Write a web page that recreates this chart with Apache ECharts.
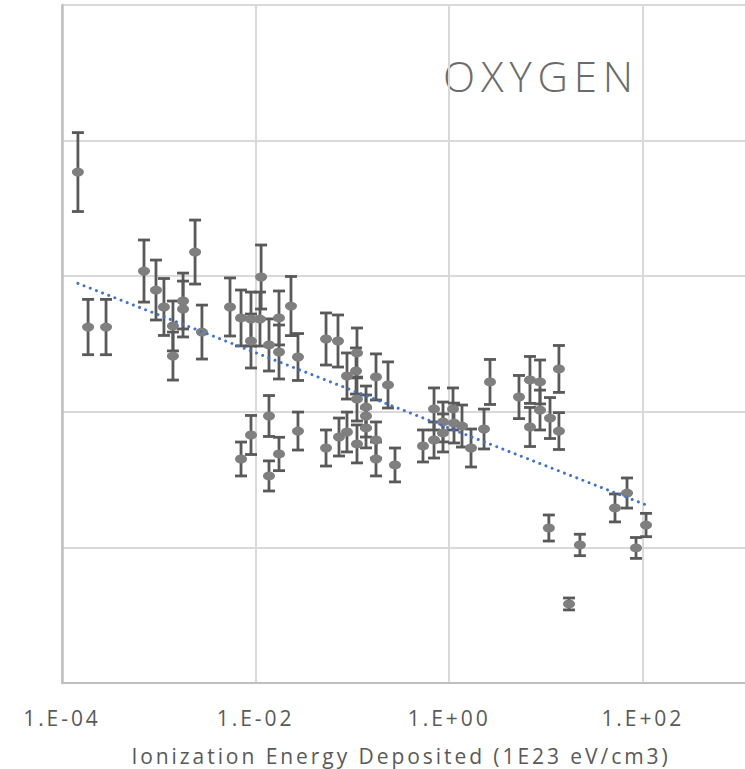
<!DOCTYPE html>
<html>
<head>
<meta charset="utf-8">
<title>OXYGEN</title>
<script src="https://cdn.jsdelivr.net/npm/echarts@6/dist/echarts.min.js"></script>
<style>
  html, body { margin: 0; padding: 0; background: #ffffff; }
  #chart { width: 745px; height: 769px; }
  /* loose tracking for all chart text */
  #chart text { letter-spacing: 0.14em; }
</style>
</head>
<body>
<div id="chart"></div>
<script>
// Ionization energy deposited (1E23 eV/cm3) for each measurement
const energyDeposited = [
  1.46e-4, 1.86e-4, 2.85e-4, 7.03e-4, 9.35e-4, 1.13e-3, 1.40e-3, 1.40e-3, 1.78e-3, 1.78e-3,
  2.37e-3, 2.79e-3, 5.44e-3, 7.07e-3, 8.96e-3, 1.11e-2, 1.14e-2, 8.96e-3, 1.375e-2, 1.745e-2,
  1.745e-2, 2.32e-2, 2.74e-2, 7.07e-3, 8.96e-3, 1.375e-2, 1.375e-2, 1.745e-2, 2.74e-2, 5.34e-2,
  7.10e-2, 0.1115, 8.79e-2, 0.109, 0.1753, 0.2332, 0.1115, 0.1382, 0.1382, 8.79e-2,
  7.27e-2, 5.34e-2, 0.1115, 0.1382, 0.1753, 0.1753, 0.2755, 0.536, 0.697, 0.697,
  0.863, 0.863, 1.095, 1.121, 1.356, 1.68, 2.29, 2.64, 5.26, 6.83,
  8.67, 13.6, 6.83, 8.67, 11.0, 13.6, 10.7, 22.4, 17.3, 51.6,
  68.7, 108, 85.1
];

// Measured response at each point
const response = [
  3.768, 2.625, 2.625, 3.038, 2.898, 2.773, 2.633, 2.411, 2.817, 2.758,
  3.178, 2.588, 2.773, 2.692, 2.684, 2.684, 2.994, 2.522, 2.493, 2.692,
  2.441, 2.780, 2.404, 1.652, 1.829, 1.969, 1.527, 1.689, 1.858, 2.537,
  2.522, 2.434, 2.264, 2.301, 2.257, 2.198, 2.094, 2.035, 1.969, 1.851,
  1.814, 1.733, 1.763, 1.881, 1.792, 1.652, 1.608, 1.748, 2.021, 1.792,
  1.925, 1.844, 2.021, 1.917, 1.895, 1.733, 1.873, 2.220, 2.109, 2.235,
  2.220, 2.316, 1.888, 2.013, 1.954, 1.858, 1.143, 1.018, 0.583, 1.291,
  1.401, 1.165, 0.996
];

// Uncertainty (+/-) of each measurement
const uncertainty = [
  0.291, 0.204, 0.204, 0.229, 0.221, 0.210, 0.184, 0.177, 0.206, 0.206,
  0.236, 0.199, 0.214, 0.206, 0.199, 0.199, 0.236, 0.199, 0.192, 0.199,
  0.199, 0.218, 0.173, 0.125, 0.144, 0.151, 0.111, 0.123, 0.140, 0.192,
  0.192, 0.184, 0.170, 0.170, 0.170, 0.170, 0.162, 0.155, 0.155, 0.147,
  0.140, 0.133, 0.140, 0.147, 0.133, 0.125, 0.125, 0.118, 0.155, 0.133,
  0.147, 0.140, 0.155, 0.147, 0.155, 0.140, 0.147, 0.166, 0.159, 0.173,
  0.162, 0.173, 0.144, 0.147, 0.151, 0.136, 0.096, 0.079, 0.044, 0.103,
  0.111, 0.086, 0.077
];

// Decade tick labels shown along the energy axis (every second decade)
const tickExponents = [-4, -2, 0, 2];
const tickLabels = ['1.E-04', '1.E-02', '1.E+00', '1.E+02'];

const chartTitle = 'OXYGEN';
const xAxisTitle = 'Ionization Energy Deposited (1E23 eV/cm3)';

// Points placed on a log10 energy axis
const logX = energyDeposited.map(v => Math.log10(v));
const points = logX.map((lx, i) => [lx, response[i]]);
const errorData = logX.map((lx, i) => [lx, response[i], uncertainty[i]]);

// Logarithmic trend line: least-squares fit of response against log10(energy)
const n = logX.length;
const meanX = logX.reduce((s, v) => s + v, 0) / n;
const meanY = response.reduce((s, v) => s + v, 0) / n;
let sxx = 0, sxy = 0;
for (let i = 0; i < n; i++) {
  sxx += (logX[i] - meanX) * (logX[i] - meanX);
  sxy += (logX[i] - meanX) * (response[i] - meanY);
}
const slope = sxy / sxx;
const intercept = meanY - slope * meanX;
const xMin = Math.min(...logX), xMax = Math.max(...logX);
const trendData = [[xMin, intercept + slope * xMin], [xMax, intercept + slope * xMax]];

const chart = echarts.init(document.getElementById('chart'), null, { renderer: 'svg' });

const textFont = '"Open Sans", "Liberation Sans", sans-serif';

chart.setOption({
  animation: false,
  backgroundColor: '#ffffff',
  grid: {
    left: 62, top: 5, width: 774.4, height: 678,
    containLabel: false,
    outerBoundsMode: 'none'
  },
  xAxis: {
    type: 'value',
    min: -4,
    max: 4,
    interval: 2,
    axisLine: { show: true, onZero: false, lineStyle: { color: '#bfbfbf', width: 2 } },
    axisTick: { show: false },
    axisLabel: {
      color: '#595959',
      fontSize: 21,
      fontFamily: textFont,
      margin: 24,
      showMaxLabel: false,
      formatter: v => {
        const idx = tickExponents.indexOf(Math.round(v));
        return idx >= 0 ? tickLabels[idx] : '';
      }
    },
    splitLine: { show: true, lineStyle: { color: '#d9d9d9', width: 2 } }
  },
  yAxis: {
    type: 'value',
    min: 0,
    max: 5,
    interval: 1,
    axisLine: { show: true, onZero: false, lineStyle: { color: '#bfbfbf', width: 2.5 } },
    axisTick: { show: false },
    axisLabel: { show: false },
    splitLine: { show: true, lineStyle: { color: '#d9d9d9', width: 2 } }
  },
  graphic: [
    {
      type: 'text',
      x: 443,
      y: 75,
      style: {
        text: chartTitle,
        fill: '#6b6b6b',
        font: '300 42px "Open Sans", "Liberation Sans", sans-serif',
        textAlign: 'left',
        textVerticalAlign: 'middle'
      }
    },
    {
      type: 'text',
      x: 401,
      y: 756,
      style: {
        text: xAxisTitle,
        fill: '#595959',
        font: '21px ' + textFont,
        textAlign: 'center',
        textVerticalAlign: 'middle'
      }
    }
  ],
  series: [
    {
      name: 'uncertainty',
      type: 'custom',
      data: errorData,
      z: 2,
      renderItem: function (params, api) {
        const x = api.value(0), y = api.value(1), e = api.value(2);
        const top = api.coord([x, y + e]);
        const bottom = api.coord([x, y - e]);
        const cx = top[0];
        const half = 6;
        const style = { stroke: '#595959', lineWidth: 2.8 };
        return {
          type: 'group',
          children: [
            { type: 'line', shape: { x1: cx, y1: top[1], x2: cx, y2: bottom[1] }, style: style },
            { type: 'line', shape: { x1: cx - half, y1: top[1], x2: cx + half, y2: top[1] }, style: style },
            { type: 'line', shape: { x1: cx - half, y1: bottom[1], x2: cx + half, y2: bottom[1] }, style: style }
          ]
        };
      }
    },
    {
      name: 'measurements',
      type: 'scatter',
      data: points,
      z: 3,
      symbol: 'circle',
      symbolSize: [12, 9],
      itemStyle: { color: '#7f7f7f', opacity: 1 }
    },
    {
      name: 'trend',
      type: 'line',
      data: trendData,
      z: 4,
      showSymbol: false,
      symbol: 'none',
      lineStyle: { color: '#4472c4', width: 3, type: [0.01, 6.6], cap: 'round' }
    }
  ]
});
</script>
</body>
</html>
